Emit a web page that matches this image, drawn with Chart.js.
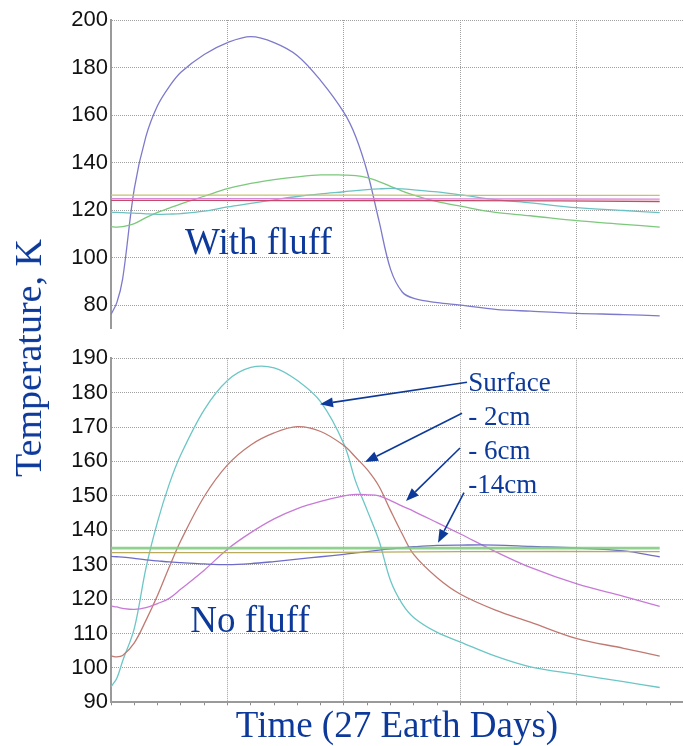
<!DOCTYPE html>
<html>
<head>
<meta charset="utf-8">
<script src="https://cdn.jsdelivr.net/npm/chart.js@4.4.1/dist/chart.umd.min.js"></script>
<style>
  body { margin: 0; background: #fff; }
  #wrap { position: relative; width: 683px; height: 746px; overflow: hidden; }
  canvas { position: absolute; left: 0; }
  #topChart { top: 0; }
  #bottomChart { top: 342px; }
  #yTitle {
    position: absolute; left: 28px; top: 358px;
    transform: translate(-50%, -50%) rotate(-90deg);
    font: 38px "Liberation Serif", "Times New Roman", serif;
    color: #0d3a9a; white-space: nowrap;
  }
</style>
</head>
<body>
<div id="wrap">
  <canvas id="topChart" width="683" height="345"></canvas>
  <canvas id="bottomChart" width="683" height="404"></canvas>
  <div id="yTitle">Temperature, K</div>
</div>
<script>
// time in grid divisions (one lunar day = 0 .. 4.71)
const timeSteps = [0, 0.05, 0.1, 0.2, 0.3, 0.4, 0.5, 0.6, 0.8, 1.0, 1.2, 1.4, 1.6, 1.8, 2.0,
                   2.1, 2.2, 2.3, 2.4, 2.5, 2.6, 2.8, 3.0, 3.3, 3.6, 4.0, 4.4, 4.71];
const flatSteps = [0, 1.5, 3.0, 4.71];
const gridTimes = [0, 1, 2, 3, 4];

// with fluff layer
const fluffViolet = [76, 81, 91, 129, 151, 164, 172, 178, 185.5, 190.5, 193, 190.5, 185, 174.5, 161,
                     151, 136, 115.5, 95, 85.5, 82.8, 81, 80, 78.2, 77.4, 76.5, 76, 75.4];
const fluffGreen = [113, 112.8, 113, 114.3, 116.8, 119, 120.8, 122.6, 125.8, 129, 131.2, 132.8, 134, 134.8, 134.7,
                    134.5, 133.6, 132, 130, 128, 126.3, 123.5, 121.6, 119, 117.6, 115.5, 114, 112.8];
const fluffCyan = [119, 119, 118.9, 118.7, 118.4, 118.2, 118.3, 118.5, 119.5, 121.3, 122.8, 124.3, 125.7, 126.8, 127.7,
                   128.2, 128.6, 128.9, 129.1, 128.9, 128.5, 127.6, 126.4, 124.4, 123, 121, 119.8, 118.9];
const fluffOlive = [126.3, 126.3, 126.2, 126.2];
const fluffPink = [124.8, 124.8, 124.7, 124.6];
const fluffRed = [124.1, 124.0, 124.0, 123.6];

// bare regolith
const bareSurface = [94.5, 97, 102, 111.5, 129, 142.5, 153.4, 162, 175, 183.5, 187.3, 187.2, 183.5, 177.3, 165,
                     154.2, 145.7, 137, 125.3, 118.6, 114.6, 110.3, 107.5, 103.4, 100.3, 98.1, 96, 94.3];
const bare2cm = [103.5, 103.2, 103.6, 107.3, 113.8, 121.1, 129.3, 137, 149.8, 159, 164.8, 168.3, 170.1, 168.7, 164.6,
                 161.2, 157.6, 152.8, 145.7, 138.9, 132.9, 126.2, 121.4, 116.8, 113.3, 108.5, 105.7, 103.4];
const bare6cm = [118, 117.7, 117.3, 117, 117.5, 118.7, 120.2, 122.9, 128.4, 134.5, 139.3, 143.3, 146.3, 148.4, 150,
                 150.4, 150.3, 150, 148.6, 147, 145.5, 142.2, 138.9, 133.8, 129.2, 124.4, 120.8, 117.9];
const bare14cm = [132.4, 132.3, 132.2, 131.8, 131.4, 131.1, 130.8, 130.6, 130.2, 130, 130.3, 130.9, 131.6, 132.3, 133,
                  133.4, 133.8, 134.2, 134.6, 134.9, 135.2, 135.6, 135.7, 135.7, 135.3, 134.8, 134, 132.3];
const bareDeepGreen = [134.8, 134.8, 134.8, 134.8];
const bareDeepOlive = [133.5, 133.5, 133.8, 133.8];

const topTicks = [80, 100, 120, 140, 160, 180, 200];
const bottomTicks = [90, 100, 110, 120, 130, 140, 150, 160, 170, 180, 190];

const depthLabels = ['Surface', '- 2cm', '- 6cm', '-14cm'];
const depthLevels = [180.4, 170.5, 160.7, 150.9];
const depthLabelTime = 3.067;
// arrow tails and tips as [time, K]
const arrowFrom = [[3.056, 183.0], [3.013, 174.0], [2.996, 163.9], [3.03, 150.9]];
const arrowTo = [[1.794, 176.6], [2.18, 159.8], [2.532, 148.5], [2.807, 136.4]];

const ink = '#0d3a9a';
const serif = '"Liberation Serif", "Times New Roman", serif';
const sans = '"Liberation Sans", Arial, sans-serif';

const pts = (xs, ys) => ys.map((v, i) => ({x: xs[i], y: v}));
const line = (xs, ys, color, width) => ({
  data: pts(xs, ys), borderColor: color, borderWidth: width || 1.3,
  pointRadius: 0, tension: 0.35, fill: false
});
const isWhole = v => Math.abs(v - Math.round(v)) < 1e-6;

function yAxis(min, max, ticks) {
  return {
    type: 'linear', min: min, max: max,
    afterFit: s => { s.width = 111; },
    afterBuildTicks: s => { s.ticks = ticks.map(v => ({value: v})); },
    grid: { color: '#a0a0a0', lineWidth: 1, drawTicks: false },
    border: { display: true, color: '#9a9a9a', width: 2, dash: [1, 1] },
    ticks: { color: '#111', padding: 3, font: { family: sans, size: 22 } }
  };
}

function notesPlugin(texts, arrows) {
  return {
    id: 'notes',
    afterDatasetsDraw(chart) {
      const {ctx, scales: {x, y}} = chart;
      ctx.save();
      ctx.fillStyle = ink;
      ctx.strokeStyle = ink;
      ctx.textBaseline = 'alphabetic';
      texts.forEach(t => {
        ctx.font = t.size + 'px ' + serif;
        ctx.fillText(t.text, x.getPixelForValue(t.t), y.getPixelForValue(t.v));
      });
      arrows.forEach(a => {
        const x1 = x.getPixelForValue(a[0][0]), y1 = y.getPixelForValue(a[0][1]);
        const x2 = x.getPixelForValue(a[1][0]), y2 = y.getPixelForValue(a[1][1]);
        const ang = Math.atan2(y2 - y1, x2 - x1);
        const len = 13, half = 5;
        const bx = x2 - len * Math.cos(ang), by = y2 - len * Math.sin(ang);
        ctx.lineWidth = 1.6;
        ctx.beginPath();
        ctx.moveTo(x1, y1);
        ctx.lineTo(bx, by);
        ctx.stroke();
        ctx.beginPath();
        ctx.moveTo(x2, y2);
        ctx.lineTo(bx + half * Math.sin(ang), by - half * Math.cos(ang));
        ctx.lineTo(bx - half * Math.sin(ang), by + half * Math.cos(ang));
        ctx.closePath();
        ctx.fill();
      });
      ctx.restore();
    }
  };
}

new Chart(document.getElementById('topChart'), {
  type: 'line',
  data: {
    datasets: [
      line(flatSteps, fluffOlive, '#c8c070'),
      line(flatSteps, fluffPink, '#d58ad8'),
      line(flatSteps, fluffRed, '#c84a68'),
      line(timeSteps, fluffCyan, '#6cc2c2'),
      line(timeSteps, fluffGreen, '#7cc87c'),
      line(timeSteps, fluffViolet, '#7d7acb')
    ]
  },
  options: {
    responsive: false, animation: false,
    layout: { padding: { top: 20, bottom: 5, left: 0, right: 0 } },
    plugins: { legend: { display: false }, tooltip: { enabled: false } },
    scales: {
      x: {
        type: 'linear', min: 0, max: 4.91,
        afterFit: s => { s.height = 0; },
        afterBuildTicks: s => { s.ticks = gridTimes.map(v => ({value: v})); },
        grid: { color: '#a0a0a0', drawTicks: false },
        border: { display: false, dash: [1, 1] },
        ticks: { display: false }
      },
      y: yAxis(70, 200, topTicks)
    }
  },
  plugins: [notesPlugin([{text: 'With fluff', t: 0.635, v: 101.5, size: 37}], [])]
});

const minorTimes = Array.from({length: 25}, (_, i) => i * 0.2);

new Chart(document.getElementById('bottomChart'), {
  type: 'line',
  data: {
    datasets: [
      line(flatSteps, bareDeepGreen, 'rgba(130,205,130,0.9)', 2.6),
      line(flatSteps, bareDeepOlive, '#b8ac5c'),
      line(timeSteps, bare14cm, '#6e6cc8'),
      line(timeSteps, bare6cm, '#c87ad6'),
      line(timeSteps, bare2cm, '#c07a72'),
      line(timeSteps, bareSurface, '#6cc6c6')
    ]
  },
  options: {
    responsive: false, animation: false,
    layout: { padding: { top: 14.7, bottom: 0, left: 0, right: 0 } },
    plugins: { legend: { display: false }, tooltip: { enabled: false } },
    scales: {
      x: {
        type: 'linear', min: 0, max: 4.91,
        afterFit: s => { s.height = 43.7; },
        afterBuildTicks: s => { s.ticks = minorTimes.map(v => ({value: v})); },
        grid: {
          color: c => isWhole(c.tick.value) ? '#a0a0a0' : 'rgba(0,0,0,0)',
          tickColor: '#8c8c8c', tickLength: 3, tickWidth: 1, drawTicks: true
        },
        border: { display: true, color: '#9a9a9a', width: 2, dash: [1, 1] },
        ticks: { display: false },
        title: {
          display: true, text: 'Time (27 Earth Days)', color: ink,
          font: { family: serif, size: 37, lineHeight: 1 },
          padding: { top: 0, bottom: 0 }
        }
      },
      y: yAxis(90, 190, bottomTicks)
    }
  },
  plugins: [notesPlugin(
    [{text: 'No fluff', t: 0.68, v: 110.3, size: 37}].concat(
      depthLabels.map((s, i) => ({text: s, t: depthLabelTime, v: depthLevels[i], size: 27}))),
    arrowFrom.map((f, i) => [f, arrowTo[i]])
  )]
});
</script>
</body>
</html>
